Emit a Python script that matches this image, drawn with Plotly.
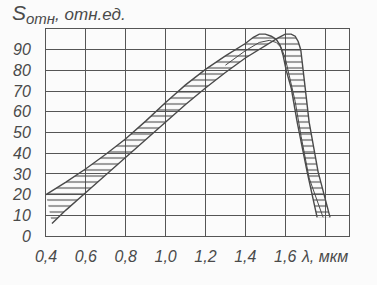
import plotly.graph_objects as go

# Upper/left boundary of the sensitivity band
wl_upper = [0.40, 0.50, 0.60, 0.70, 0.80, 0.90, 1.00, 1.10, 1.20, 1.30, 1.40, 1.44, 1.47, 1.50, 1.53,
            1.555, 1.575, 1.59, 1.605, 1.63, 1.66, 1.71, 1.76]
s_upper = [20, 26, 32.5, 39.5, 47, 55.5, 64.5, 73, 80.5, 87, 93, 96, 97.5, 97.5, 96.5,
           95, 92, 87, 80, 71.5, 55, 31, 9]

# Lower/right boundary of the sensitivity band
wl_lower = [0.43, 0.50, 0.60, 0.70, 0.80, 0.90, 1.00, 1.10, 1.20, 1.30, 1.40, 1.50, 1.56,
            1.60, 1.63, 1.65, 1.665, 1.678, 1.688, 1.70, 1.72, 1.765, 1.825]
s_lower = [6, 12.5, 21, 29.5, 38, 46.5, 55, 63.5, 71.5, 79, 86, 92, 95.5,
           97.5, 97.5, 96.5, 94, 90, 82, 71.5, 55, 31, 9]

# Inner curve near the maximum
wl_inner = [1.30, 1.40, 1.47, 1.52, 1.555, 1.58, 1.60, 1.625, 1.65, 1.68, 1.72, 1.79]
s_inner = [82.5, 89.5, 93.5, 94.5, 93.5, 91, 86, 76, 65, 48, 28, 9]

x_ticks = [0.4, 0.6, 0.8, 1.0, 1.2, 1.4, 1.6, 1.8]
x_labels = ["0,4", "0,6", "0,8", "1,0", "1,2", "1,4", "1,6", "λ, мкм"]
y_ticks = [0, 10, 20, 30, 40, 50, 60, 70, 80, 90]

ink = "#4a4a4a"
font_family = "Liberation Sans"

fig = go.Figure()

# hatched band between the two boundaries
fig.add_trace(go.Scatter(
    x=wl_upper + wl_lower[::-1],
    y=s_upper + s_lower[::-1],
    mode="lines", fill="toself",
    line=dict(width=0, color="rgba(0,0,0,0)"),
    fillcolor="rgba(0,0,0,0)",
    fillpattern=dict(shape="-", size=6, solidity=0.35, fgcolor="#444444", bgcolor="rgba(0,0,0,0)"),
    hoverinfo="skip", showlegend=False,
))
for xs, ys, w in [(wl_upper, s_upper, 1.4), (wl_lower, s_lower, 1.4), (wl_inner, s_inner, 1.0)]:
    fig.add_trace(go.Scatter(x=xs, y=ys, mode="lines", line=dict(color=ink, width=w),
                             showlegend=False, hoverinfo="skip"))

fig.update_layout(
    width=377, height=285,
    margin=dict(l=44, r=28, t=29, b=49),
    paper_bgcolor="#fbfbfb", plot_bgcolor="#fbfbfb",
    font=dict(family=font_family, color=ink, size=16),
    xaxis=dict(range=[0.4, 1.92], tickvals=x_ticks, ticktext=x_labels,
               showgrid=True, gridcolor="#555555", gridwidth=1,
               showline=True, linecolor="#555555", linewidth=1, mirror=True,
               zeroline=False, ticks="", ticklabelstandoff=6,
               tickfont=dict(size=16, style="italic", color=ink)),
    yaxis=dict(range=[0, 100], tickvals=y_ticks,
               showgrid=True, gridcolor="#555555", gridwidth=1,
               showline=True, linecolor="#555555", linewidth=1, mirror=True,
               zeroline=False, ticks="", ticklabelstandoff=11,
               tickfont=dict(size=16, style="italic", color=ink)),
    annotations=[dict(
        text="<span style='font-size:21px'>S</span><sub><span style='font-size:15px'>отн</span></sub>, отн.ед.",
        xref="paper", yref="paper",
        x=-0.12, y=1.0, xanchor="left", yanchor="bottom", showarrow=False,
        font=dict(size=17, style="italic", color=ink, family=font_family),
    )],
)

fig.write_html("out.html")
